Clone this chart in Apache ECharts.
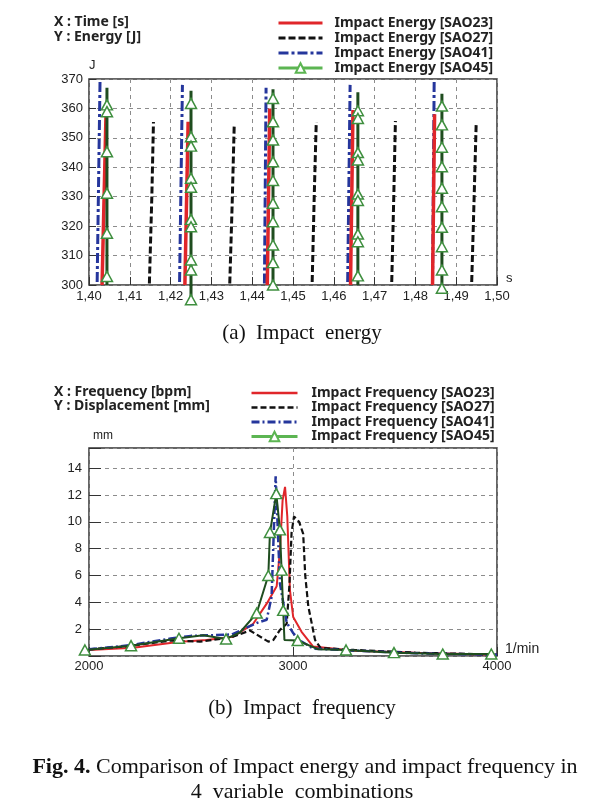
<!DOCTYPE html>
<html><head><meta charset="utf-8">
<script src="https://cdn.jsdelivr.net/npm/echarts@6/dist/echarts.min.js"></script>
<style>html,body{margin:0;padding:0;background:#fff}#c{width:604px;height:812px}</style>
</head><body><div id="c"></div>
<script>
// ---------- (a) Impact energy: vertical pulses [time s, energy J] ----------
const energyNames = ['Impact Energy [SAO23]', 'Impact Energy [SAO27]', 'Impact Energy [SAO41]', 'Impact Energy [SAO45]'];
const energySAO23 = [
  [[1.4032, 300], [1.4042, 360]],
  [[1.4235, 300], [1.4243, 355.5]],
  [[1.4437, 300], [1.4443, 360]],
  [[1.4641, 300], [1.4647, 359.5]],
  [[1.4842, 300], [1.4847, 358]]
];
const energySAO27 = [
  [[1.4148, 300.5], [1.4154, 330], [1.4158, 355.4]],
  [[1.4345, 300.5], [1.4351, 328], [1.4356, 354.7]],
  [[1.4547, 301], [1.4552, 330], [1.4557, 355.4]],
  [[1.4742, 301], [1.4747, 330], [1.4751, 355.7]],
  [[1.4938, 301], [1.4944, 330], [1.4949, 355]]
];
const energySAO41 = [
  [[1.4020, 301], [1.4027, 369]],
  [[1.4222, 301], [1.4229, 368]],
  [[1.4430, 300.5], [1.4434, 367]],
  [[1.4634, 301], [1.4640, 368]],
  [[1.4842, 301], [1.4846, 369]]
];
const sao45Times = [1.4044, 1.4250, 1.4451, 1.4659, 1.4865];
const sao45LineTop = [367, 366, 366.5, 365.5, 365];
const sao45LineBottom = [300, null, null, 300, null];
const sao45Markers = [
  [361.2, 358.9, 345.3, 331.2, 317.6, 302.9],
  [361.7, 350.4, 347.2, 336.3, 333.2, 322.3, 319.8, 308.5, 305.1, 295],
  [363.4, 355.5, 349.3, 341.9, 335.5, 327.8, 321.5, 313.6, 307.6, 300],
  [359.2, 356.6, 345, 342.5, 330.9, 328.7, 317.3, 314.7, 303.1],
  [360.8, 354.4, 346.8, 340.2, 332.9, 326.6, 319.6, 313, 305.1, 298.9]
];
const energyRange = { xmin: 1.40, xmax: 1.50, xstep: 0.01, ymin: 300, ymax: 370, ystep: 10 };

// ---------- (b) Impact frequency: [frequency bpm, displacement mm] ----------
const freqNames = ['Impact Frequency [SAO23]', 'Impact Frequency [SAO27]', 'Impact Frequency [SAO41]', 'Impact Frequency [SAO45]'];
const freqSAO23 = [[2000, 0.45], [2217, 0.62], [2446, 1.07], [2577, 1.2], [2706, 1.44], [2805, 2.4], [2871, 3.9], [2920, 5.2], [2936, 7.9], [2949, 11.6], [2961, 12.6], [2972, 10.4], [2985, 4.9], [3001, 2.9], [3042, 1.8], [3099, 0.7], [3300, 0.4], [3600, 0.25], [4000, 0.1]];
const freqSAO27 = [[2000, 0.5], [2200, 0.75], [2400, 1.15], [2544, 1.07], [2700, 1.4], [2789, 1.9], [2854, 1.3], [2879, 1.07], [2904, 1.2], [2936, 1.94], [2969, 2.4], [2983, 5.4], [2993, 9.2], [3005, 10.4], [3030, 10.0], [3050, 9.1], [3060, 6.0], [3075, 3.7], [3108, 1.2], [3135, 0.6], [3300, 0.45], [3600, 0.25], [4000, 0.1]];
const freqSAO41 = [[2000, 0.5], [2200, 0.8], [2400, 1.3], [2500, 1.5], [2600, 1.55], [2700, 1.6], [2822, 2.46], [2871, 2.7], [2895, 4.4], [2915, 13.4], [2936, 5.4], [2969, 2.5], [3001, 1.7], [3040, 1.1], [3100, 0.55], [3300, 0.4], [3600, 0.2], [4000, 0.1]];
const freqSAO45Markers = [[1980, 0.45], [2206, 0.77], [2441, 1.32], [2672, 1.27], [2822, 3.2], [2879, 6.0], [2887, 9.2], [2918, 12.1], [2936, 9.4], [2944, 6.4], [2952, 3.4], [3023, 1.15], [3260, 0.45], [3495, 0.25], [3734, 0.15], [3972, 0.15]];
const freqSAO45LineOnly = [[2560, 1.55], [2740, 1.75], [2958, 1.2], [3124, 0.5]];
const freqRange = { xmin: 2000, xmax: 4000, xstep: 1000, ymin: 0, ymax: 15.5, ystep: 2 };

// ---------- helpers ----------
const GAP = ['-', '-'];
function pulsesToData(pulses) {
  const out = [];
  pulses.forEach((p, i) => { if (i) out.push(GAP); p.forEach(pt => out.push(pt)); });
  return out;
}
function sao45EnergyData() {
  const out = [];
  sao45Times.forEach((t, i) => {
    if (i) out.push({ value: GAP, symbol: 'none' });
    out.push({ value: [t, sao45LineTop[i]], symbol: 'none' });
    sao45Markers[i].forEach(e => out.push({ value: [t, e] }));
    if (sao45LineBottom[i] !== null) out.push({ value: [t, sao45LineBottom[i]], symbol: 'none' });
  });
  return out;
}
function sao45FreqData() {
  const pts = freqSAO45Markers.map(p => ({ value: p }))
    .concat(freqSAO45LineOnly.map(p => ({ value: p, symbol: 'none' })));
  pts.sort((a, b) => a.value[0] - b.value[0]);
  return pts;
}

const RED = '#e0262a', BLACK = '#111111', BLUE = '#25369c', DKGREEN = '#1f4d1f', MKGREEN = '#3f8f3f', LGGREEN = '#5cb552';
const grid = { color: '#8c8c8c', type: [4, 4], width: 1 };
const sans = '"Liberation Sans", Arial, sans-serif';
const serif = '"Liberation Serif", "Times New Roman", serif';
const legendFont = '"Noto Sans", "Open Sans", sans-serif';
const tri = { symbol: 'triangle', symbolSize: [11, 10], itemStyle: { color: '#ffffff', borderColor: MKGREEN, borderWidth: 1.5 } };
const noSym = { opacity: 0 };

const chart = echarts.init(document.getElementById('c'), null, { renderer: 'canvas' });
chart.setOption({
  backgroundColor: '#ffffff',
  animation: false,
  grid: [
    { left: 89, top: 79, width: 408, height: 206, show: true, borderColor: '#333', borderWidth: 1.5, backgroundColor: 'transparent' },
    { left: 89, top: 448, width: 408, height: 208, show: true, borderColor: '#333', borderWidth: 1.5, backgroundColor: 'transparent' }
  ],
  xAxis: [
    { gridIndex: 0, type: 'value', min: energyRange.xmin, max: energyRange.xmax, interval: energyRange.xstep,
      name: 's', nameLocation: 'end', nameGap: 9, nameTextStyle: { fontFamily: sans, fontSize: 13, color: '#222', verticalAlign: 'bottom' },
      axisLine: { show: false }, axisTick: { show: true, inside: true, length: 8, lineStyle: { color: '#333' } },
      axisLabel: { fontFamily: sans, fontSize: 13, color: '#222', margin: 5, formatter: v => v.toFixed(2).replace('.', ',') },
      splitLine: { show: true, lineStyle: grid } },
    { gridIndex: 1, type: 'value', min: freqRange.xmin, max: freqRange.xmax, interval: freqRange.xstep,
      name: '1/min', nameLocation: 'end', nameGap: 8, nameTextStyle: { fontFamily: sans, fontSize: 14, color: '#222', verticalAlign: 'bottom' },
      axisLine: { show: false }, axisTick: { show: true, inside: true, length: 9, lineStyle: { color: '#333' } },
      axisLabel: { fontFamily: sans, fontSize: 13, color: '#222', margin: 4, formatter: v => String(v) },
      splitLine: { show: true, lineStyle: grid } }
  ],
  yAxis: [
    { gridIndex: 0, type: 'value', min: energyRange.ymin, max: energyRange.ymax, interval: energyRange.ystep,
      name: 'J', nameLocation: 'end', nameGap: 7, nameTextStyle: { fontFamily: sans, fontSize: 13, color: '#222', align: 'left' },
      axisLine: { show: false }, axisTick: { show: true, inside: true, length: 7, lineStyle: { color: '#333' } },
      axisLabel: { fontFamily: sans, fontSize: 13, color: '#222', margin: 6 },
      splitLine: { show: true, lineStyle: grid } },
    { gridIndex: 1, type: 'value', min: freqRange.ymin, max: freqRange.ymax, interval: freqRange.ystep,
      name: 'mm', nameLocation: 'end', nameGap: 6, nameTextStyle: { fontFamily: sans, fontSize: 12, color: '#222', align: 'left', padding: [0, 0, 0, 4] },
      axisLine: { show: false }, axisTick: { show: true, inside: true, length: 12, lineStyle: { color: '#333' } },
      axisLabel: { fontFamily: sans, fontSize: 13, color: '#222', margin: 7, formatter: v => (v > 0 && v <= 14) ? String(v) : '' },
      splitLine: { show: true, lineStyle: grid } }
  ],
  legend: [
    { orient: 'vertical', left: 272, top: 11, itemWidth: 44, itemHeight: 12, itemGap: 1, selectedMode: false,
      textStyle: { fontFamily: legendFont, fontSize: 14, fontWeight: 'bold', color: '#222', lineHeight: 12, padding: [0, 0, 0, 7] },
      data: [
        { name: energyNames[0], itemStyle: noSym, lineStyle: { width: 3 } },
        { name: energyNames[1], itemStyle: noSym, lineStyle: { width: 3 } },
        { name: energyNames[2], itemStyle: noSym, lineStyle: { width: 3 } },
        { name: energyNames[3], lineStyle: { color: LGGREEN, width: 3 }, itemStyle: { borderColor: LGGREEN, borderWidth: 2 } }
      ] },
    { orient: 'vertical', left: 245, top: 381, itemWidth: 46, itemHeight: 12, itemGap: 0.5, selectedMode: false,
      textStyle: { fontFamily: legendFont, fontSize: 14, fontWeight: 'bold', color: '#222', lineHeight: 12, padding: [0, 0, 0, 9] },
      data: [
        { name: freqNames[0], itemStyle: noSym, lineStyle: { width: 2.5 } },
        { name: freqNames[1], itemStyle: noSym, lineStyle: { width: 2.5 } },
        { name: freqNames[2], itemStyle: noSym, lineStyle: { width: 3 } },
        { name: freqNames[3], lineStyle: { color: LGGREEN, width: 3 }, itemStyle: { borderColor: LGGREEN, borderWidth: 2 } }
      ] }
  ],
  series: [
    { name: energyNames[1], type: 'line', xAxisIndex: 0, yAxisIndex: 0, data: pulsesToData(energySAO27), symbol: 'none', connectNulls: false,
      lineStyle: { color: BLACK, width: 3, type: [7, 3] }, itemStyle: { color: BLACK } },
    { name: energyNames[2], type: 'line', xAxisIndex: 0, yAxisIndex: 0, data: pulsesToData(energySAO41), symbol: 'none', connectNulls: false,
      lineStyle: { color: BLUE, width: 3, type: [10, 3, 3, 3] }, itemStyle: { color: BLUE } },
    { name: energyNames[0], type: 'line', xAxisIndex: 0, yAxisIndex: 0, data: pulsesToData(energySAO23), symbol: 'none', connectNulls: false,
      lineStyle: { color: RED, width: 3.5 }, itemStyle: { color: RED } },
    Object.assign({ name: energyNames[3], type: 'line', xAxisIndex: 0, yAxisIndex: 0, data: sao45EnergyData(), connectNulls: false, clip: false,
      showAllSymbol: true, lineStyle: { color: DKGREEN, width: 3 } }, tri),

    { name: freqNames[0], type: 'line', xAxisIndex: 1, yAxisIndex: 1, data: freqSAO23, symbol: 'none',
      lineStyle: { color: RED, width: 2 }, itemStyle: { color: RED } },
    { name: freqNames[1], type: 'line', xAxisIndex: 1, yAxisIndex: 1, data: freqSAO27, symbol: 'none',
      lineStyle: { color: BLACK, width: 2.2, type: [6, 3] }, itemStyle: { color: BLACK } },
    { name: freqNames[2], type: 'line', xAxisIndex: 1, yAxisIndex: 1, data: freqSAO41, symbol: 'none',
      lineStyle: { color: BLUE, width: 2.5, type: [8, 3, 2, 3] }, itemStyle: { color: BLUE } },
    Object.assign({ name: freqNames[3], type: 'line', xAxisIndex: 1, yAxisIndex: 1, data: sao45FreqData(), clip: false,
      showAllSymbol: true, lineStyle: { color: DKGREEN, width: 2 } }, tri)
  ],
  graphic: [
    { type: 'text', x: 54, y: 22, style: { text: 'X : Time [s]', fontFamily: legendFont, fontSize: 14, fontWeight: 'bold', fill: '#222', verticalAlign: 'middle' } },
    { type: 'text', x: 54, y: 37, style: { text: 'Y : Energy [J]', fontFamily: legendFont, fontSize: 14, fontWeight: 'bold', fill: '#222', verticalAlign: 'middle' } },
    { type: 'text', x: 302, y: 333, style: { text: '(a)  Impact  energy', fontFamily: serif, fontSize: 21, fill: '#111', align: 'center', verticalAlign: 'middle' } },
    { type: 'text', x: 54, y: 392, style: { text: 'X : Frequency [bpm]', fontFamily: legendFont, fontSize: 14, fontWeight: 'bold', fill: '#222', verticalAlign: 'middle' } },
    { type: 'text', x: 54, y: 406, style: { text: 'Y : Displacement [mm]', fontFamily: legendFont, fontSize: 14, fontWeight: 'bold', fill: '#222', verticalAlign: 'middle' } },
    { type: 'text', x: 302, y: 708, style: { text: '(b)  Impact  frequency', fontFamily: serif, fontSize: 21, fill: '#111', align: 'center', verticalAlign: 'middle' } },
    { type: 'text', x: 305, y: 767, style: { text: '{b|Fig. 4.} Comparison of Impact energy and impact frequency in', fontFamily: serif, fontSize: 22, fill: '#111', align: 'center', verticalAlign: 'middle',
      rich: { b: { fontFamily: serif, fontSize: 22, fontWeight: 'bold', fill: '#111' } } } },
    { type: 'text', x: 302, y: 792, style: { text: '4  variable  combinations', fontFamily: serif, fontSize: 22, fill: '#111', align: 'center', verticalAlign: 'middle' } }
  ]
});
</script>
</body></html>
